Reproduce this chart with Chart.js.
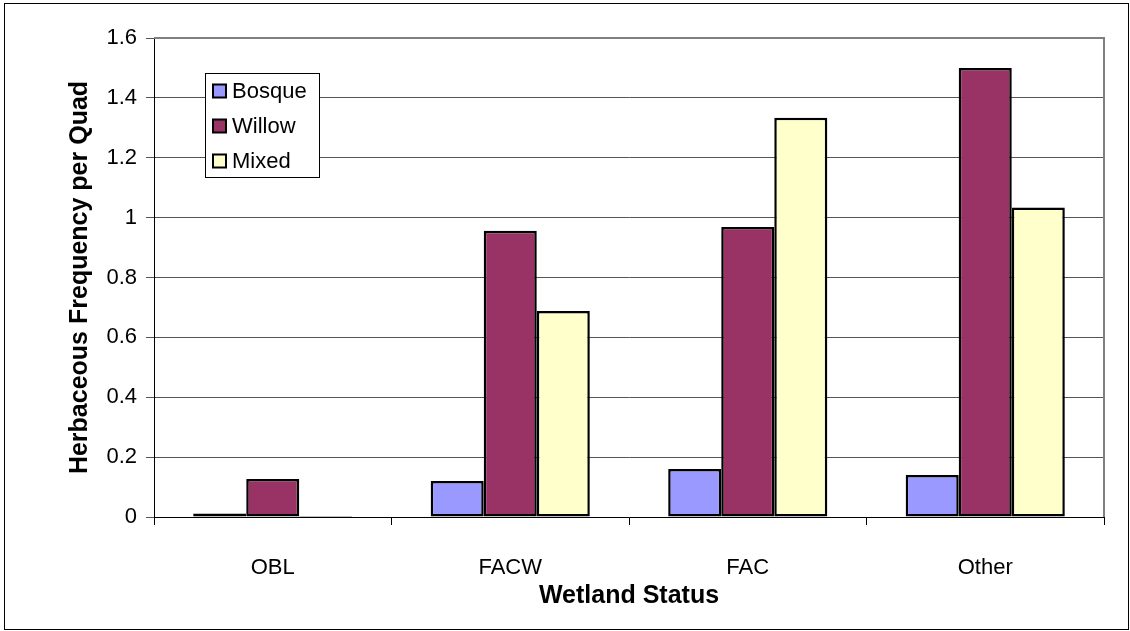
<!DOCTYPE html>
<html>
<head>
<meta charset="utf-8">
<script src="https://cdn.jsdelivr.net/npm/chart.js@4/dist/chart.umd.min.js"></script>
<style>
  html, body { margin: 0; padding: 0; background: #fff; }
</style>
</head>
<body>
<canvas id="myBarChart" width="1130" height="631"></canvas>
<script>
// data
var categories = ['OBL', 'FACW', 'FAC', 'Other'];
var bosque = [0.012, 0.12, 0.16, 0.14];
var willow = [0.127, 0.956, 0.969, 1.5];
var mixed = [0.003, 0.688, 1.334, 1.034];
var seriesNames = ['Bosque', 'Willow', 'Mixed'];
var seriesColors = ['#9999FF', '#993366', '#FFFFCC'];
var yMin = 0, yMax = 1.6, yStep = 0.2;

var fontFamily = '"Liberation Sans", Arial, sans-serif';

// gray top/right edge of the plot area
var plotBorder = {
    id: 'plotBorder',
    beforeDatasetsDraw: function (chart) {
        var a = chart.chartArea, c = chart.ctx;
        c.save();
        c.strokeStyle = '#808080';
        c.lineWidth = 2;
        c.beginPath();
        c.moveTo(a.left, a.top);
        c.lineTo(a.right, a.top);
        c.lineTo(a.right, a.bottom);
        c.stroke();
        c.restore();
    }
};

// boxed legend inside the plot, plus the outer frame
var boxLegend = {
    id: 'boxLegend',
    afterDraw: function (chart) {
        var c = chart.ctx;
        c.save();
        c.strokeStyle = '#000';
        c.lineWidth = 1;
        c.strokeRect(4.5, 3.5, 1124, 626);

        c.fillStyle = '#fff';
        c.fillRect(205.5, 73.5, 114, 104);
        c.strokeRect(205.5, 73.5, 114, 104);

        c.font = '22px ' + fontFamily;
        c.textBaseline = 'middle';
        chart.data.datasets.forEach(function (ds, i) {
            var cy = 91 + i * 35;
            c.fillStyle = ds.backgroundColor;
            c.fillRect(213, cy - 6.5, 13, 13);
            c.lineWidth = 2;
            c.strokeRect(213, cy - 6.5, 13, 13);
            c.fillStyle = '#000';
            c.fillText(ds.label, 232, cy + 1);
        });
        c.restore();
    }
};

var ctx = document.getElementById('myBarChart').getContext('2d');
var data = {
    labels: categories,
    datasets: [
        { label: seriesNames[0], data: bosque, backgroundColor: seriesColors[0] },
        { label: seriesNames[1], data: willow, backgroundColor: seriesColors[1] },
        { label: seriesNames[2], data: mixed, backgroundColor: seriesColors[2] }
    ].map(function (ds) {
        ds.borderColor = '#000';
        ds.borderWidth = 2.5;
        ds.borderSkipped = false;
        ds.categoryPercentage = 0.67;
        ds.barPercentage = 1.0;
        return ds;
    })
};

var options = {
    responsive: false,
    animation: false,
    devicePixelRatio: 1,
    layout: { padding: { left: 4, right: 26, top: 38, bottom: 0 } },
    plugins: {
        legend: { display: false },
        tooltip: { enabled: false }
    },
    scales: {
        x: {
            grid: { offset: true, drawOnChartArea: false, drawTicks: true, tickLength: 8, color: '#000' },
            border: { color: '#000', width: 1 },
            ticks: { color: '#000', font: { family: fontFamily, size: 22 }, padding: 30 },
            title: {
                display: true,
                text: 'Wetland Status',
                color: '#000',
                font: { family: fontFamily, size: 25, weight: 'bold' },
                padding: { top: 0, bottom: 20 }
            },
            afterFit: function (scale) { scale.height = 114; }
        },
        y: {
            min: yMin,
            max: yMax,
            grid: { color: '#555', tickLength: 8, lineWidth: 1 },
            border: { color: '#000', width: 1 },
            ticks: {
                stepSize: yStep,
                color: '#000',
                font: { family: fontFamily, size: 22 },
                padding: 9,
                callback: function (v) { return String(Math.round(v * 10) / 10); }
            },
            title: {
                display: true,
                text: 'Herbaceous Frequency per Quad',
                color: '#000',
                font: { family: fontFamily, size: 25, weight: 'bold' },
                padding: { top: 61, bottom: 0 }
            },
            afterFit: function (scale) { scale.width = 150; }
        }
    }
};

var myBarChart = new Chart(ctx, {
    type: 'bar',
    data: data,
    options: options,
    plugins: [plotBorder, boxLegend]
});
</script>
</body>
</html>
